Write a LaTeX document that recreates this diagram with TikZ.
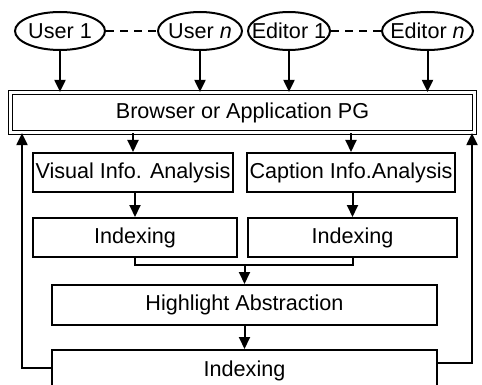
\documentclass[tikz,border=0pt]{standalone}
\usepackage{fontspec}
\setmainfont{Liberation Sans}
\usetikzlibrary{positioning,arrows.meta,shapes.geometric}

\tikzset{
  ellbox/.style={draw, ellipse, line width=1pt, inner xsep=-8pt, inner ysep=0pt, minimum height=19pt},
  procbox/.style={draw, rectangle, line width=1pt, inner sep=0pt, minimum height=19.5pt},
  brwbox/.style={draw, rectangle, double, line width=0.6pt, double distance=1.2pt, inner sep=0pt, minimum width=232pt, minimum height=20pt},
  arr/.style={-{Triangle[length=6pt,width=5.5pt]}, line width=1pt},
  link/.style={line width=1pt},
  dashlink/.style={line width=1pt, dash pattern=on 4pt off 3pt}
}

\begin{document}
\begin{tikzpicture}[x=0.5pt, y=-0.5pt, font=\fontsize{10.8pt}{12pt}\selectfont]
  \useasboundingbox (0,0) rectangle (482,385);

  % Users and editors
  \node[ellbox, minimum width=45pt] (u1) at (60,31) {User 1};
  \node[ellbox, minimum width=42pt] (un) at (200,31) {User \textit{n}};
  \node[ellbox, minimum width=41pt] (e1) at (289,31) {Editor 1};
  \node[ellbox, minimum width=45.5pt] (en) at (427.5,31) {Editor \textit{n}};
  \draw[dashlink] (u1.east) -- (un.west);
  \draw[dashlink] (e1.east) -- (en.west);

  % Browser
  \node[brwbox] (brw) at (242.5,112.5) {Browser or Application PG};
  \foreach \n in {u1,un,e1,en}
    \draw[arr] (\n.south) -- (\n.south |- brw.north);

  % Analysis
  \node[procbox, minimum width=100pt] (vis) at (133,172.5) {Visual Info. Analysis};
  \node[procbox, minimum width=104pt] (cap) at (351,172.5) {Caption Info.Analysis};
  \draw[arr] (brw.south -| vis.north) -- (vis.north);
  \draw[arr] (brw.south -| cap.north) -- (cap.north);

  % Indexing
  \node[procbox, minimum width=102pt] (idxL) at (135,237.5) {Indexing};
  \node[procbox, minimum width=104.5pt] (idxR) at (352.5,237.5) {Indexing};
  \draw[arr] (vis.south -| idxL.north) -- (idxL.north);
  \draw[arr] (cap.south -| idxR.north) -- (idxR.north);

  % Highlight abstraction
  \node[procbox, minimum width=192.5pt, minimum height=20pt] (hl) at (244.5,305) {Highlight Abstraction};
  \coordinate (jn) at (244.5,265);
  \draw[link] (idxL.south) |- (jn) -| (idxR.south);
  \draw[arr] (jn) -- (hl.north);

  % Final indexing
  \node[procbox, minimum width=192.5pt, minimum height=21pt] (idxB) at (244.5,371) {Indexing};
  \draw[arr] (hl.south) -- (idxB.north);

  % Feedback
  \coordinate (fbL) at (22,368);
  \coordinate (fbR) at (472,363);
  \draw[arr] (fbL -| idxB.west) -- (fbL) -- (fbL |- brw.south);
  \draw[arr] (fbR -| idxB.east) -- (fbR) -- (fbR |- brw.south);
\end{tikzpicture}
\end{document}
